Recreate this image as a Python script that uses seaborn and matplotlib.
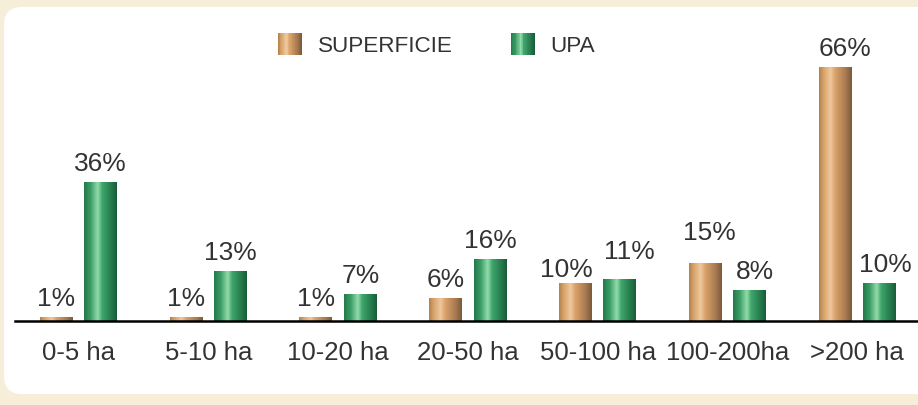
import numpy as np
import pandas as pd
import matplotlib
matplotlib.use("Agg")
import matplotlib.pyplot as plt
import seaborn as sns
from matplotlib.colors import LinearSegmentedColormap
from matplotlib.patches import FancyBboxPatch, Rectangle
from matplotlib.legend_handler import HandlerBase
from matplotlib.transforms import IdentityTransform

# datos
categorias = ["0-5 ha", "5-10 ha", "10-20 ha", "20-50 ha", "50-100 ha", "100-200ha", ">200 ha"]
superficie = [1, 1, 1, 6, 10, 15, 66]
upa = [36, 13, 7, 16, 11, 8, 10]
series = ["SUPERFICIE", "UPA"]

df = pd.DataFrame({
    "categoria": categorias * 2,
    "serie": [series[0]] * len(categorias) + [series[1]] * len(categorias),
    "valor": superficie + upa,
})

# ajustes manuales de etiquetas (px) para que no se pisen
ajuste_sup = {"50-100 ha": (-9, -5), "100-200ha": (4, 12), ">200 ha": (10, 0)}
ajuste_upa = {"50-100 ha": (9, 9), "100-200ha": (5, 0), ">200 ha": (6, 0)}

# degradados tipo cilindro
cmap_sup = LinearSegmentedColormap.from_list("sup", [
    (0.0, "#b3804b"), (0.15, "#d8a66c"), (0.35, "#f0c89e"),
    (0.5, "#d9a169"), (0.8, "#a97b51"), (1.0, "#7b593a")])
cmap_upa = LinearSegmentedColormap.from_list("upa", [
    (0.0, "#24794b"), (0.2, "#3a9d65"), (0.42, "#93dcab"),
    (0.55, "#3fa66c"), (0.85, "#23774a"), (1.0, "#195c38")])
cmaps = [cmap_sup, cmap_upa]

sns.set_style("white")
plt.rcParams["font.family"] = ["Liberation Sans", "DejaVu Sans"]

fig = plt.figure(figsize=(9.18, 4.06), dpi=100)
fig.patch.set_facecolor("#f6eed9")

# panel blanco redondeado
panel = FancyBboxPatch((4, 11), 940, 387, boxstyle="round,pad=0,rounding_size=18",
                       transform=IdentityTransform(), facecolor="white",
                       edgecolor="none", zorder=-10)
fig.patches.append(panel)

ax = fig.add_axes([15 / 918, 84 / 406, 1 - 15 / 918, 308 / 406])
ax.set_facecolor("none")
ax.set_zorder(1)

sns.barplot(data=df, x="categoria", y="valor", hue="serie", order=categorias,
            hue_order=series, palette=["#d09a60", "#3a9e66"], width=0.686,
            gap=0.26, legend=False, ax=ax, zorder=2)

grad = np.linspace(0, 1, 256).reshape(1, -1)
for container, cmap in zip(ax.containers, cmaps):
    for bar in container:
        x0, y0 = bar.get_x(), bar.get_y()
        w, h = bar.get_width(), bar.get_height()
        img = ax.imshow(grad, cmap=cmap, aspect="auto", interpolation="bilinear",
                        extent=(x0, x0 + w, y0, y0 + h), zorder=3)
        img.set_clip_path(bar)

for container, vals, ajuste in zip(ax.containers, [superficie, upa], [ajuste_sup, ajuste_upa]):
    textos = ax.bar_label(container, labels=[f"{v}%" for v in vals], padding=5,
                          fontsize=19, color="#333333")
    for cat, t in zip(categorias, textos):
        dx, dy = ajuste.get(cat, (0, 0))
        t.xyann = (t.xyann[0] + dx * 0.72, t.xyann[1] + dy * 0.72)

ax.set_xlim(-0.489, 6.468)
ax.set_ylim(0, 80)
ax.set_xlabel("")
ax.set_ylabel("")
ax.set_yticks([])
ax.tick_params(axis="x", length=0, pad=14, labelsize=18.5, labelcolor="#333333")
for lado in ["top", "right", "left"]:
    ax.spines[lado].set_visible(False)
ax.spines["bottom"].set_linewidth(1.8)
ax.spines["bottom"].set_color("black")
ax.spines["bottom"].set_zorder(4)


class ClaveDegradado:
    def __init__(self, cmap):
        self.cmap = cmap


class ManejadorDegradado(HandlerBase):
    def create_artists(self, legend, orig_handle, xdescent, ydescent,
                       width, height, fontsize, trans):
        n = 30
        piezas = []
        for i in range(n):
            r = Rectangle((-xdescent + width * i / n, -ydescent), width / n * 1.1, height,
                          facecolor=orig_handle.cmap((i + 0.5) / n), edgecolor="none",
                          transform=trans)
            piezas.append(r)
        return piezas


fig.legend([ClaveDegradado(c) for c in cmaps], series,
           handler_map={ClaveDegradado: ManejadorDegradado()},
           loc="center", bbox_to_anchor=(0.4755, 0.888), ncol=2, frameon=False,
           prop={"size": 16.2}, labelcolor="#333333",
           handlelength=1.05, handleheight=1.15, handletextpad=0.7,
           columnspacing=2.6, borderpad=0)

fig.savefig("out.png", dpi=100, facecolor=fig.get_facecolor())
